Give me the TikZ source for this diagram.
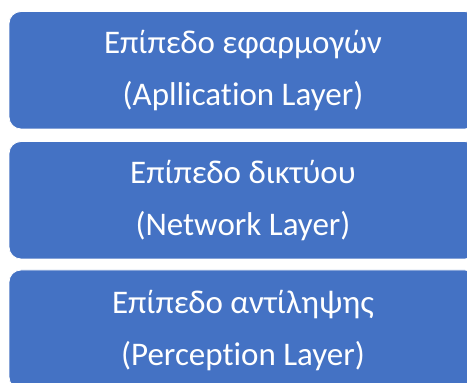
\documentclass[tikz,border=0pt]{standalone}
\usepackage{fontspec}
\setmainfont[Ligatures={NoCommon}]{Carlito}
\definecolor{boxblue}{HTML}{4472C4}
\begin{document}
\begin{tikzpicture}[x=1pt,y=1pt,
  layerbox/.style={fill=boxblue,draw=white,line width=0.8pt,rounded corners=12pt},
  layertext/.style={text=white,font=\fontsize{33}{40}\selectfont,anchor=base,inner sep=0pt}]
\useasboundingbox (0,0) rectangle (467,383);
\clip (0,0) rectangle (467,383);
\fill[white] (0,0) rectangle (467,383);
% boxes
\draw[layerbox] (9,254) rectangle (477,371.5);
\draw[layerbox] (9,124) rectangle (477,241.5);
\draw[layerbox] (9,-6) rectangle (477,113);
% texts
\node[layertext] (a1) at (243,329) {Επίπεδο εφαρμογών};
\node[layertext] (a2) at (243,277) {(Apllication Layer)};
\node[layertext] (b1) at (243,199) {Επίπεδο δικτύου};
\node[layertext] (b2) at (243,147) {(Network Layer)};
\node[layertext] (c1) at (243,69) {Επίπεδο αντίληψης};
\node[layertext] (c2) at (243,17) {(Perception Layer)};
\end{tikzpicture}
\end{document}
